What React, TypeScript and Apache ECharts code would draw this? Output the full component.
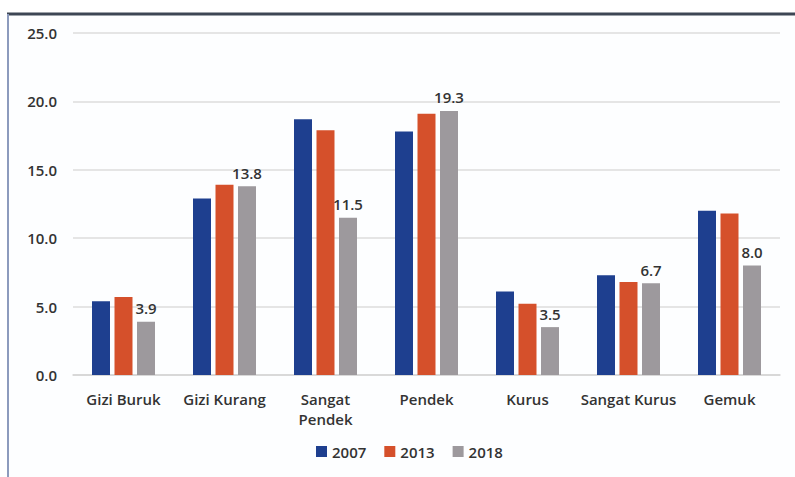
import React, { useEffect, useRef } from "react";
import * as echarts from "echarts";

const categories = ["Gizi Buruk", "Gizi Kurang", "Sangat\nPendek", "Pendek", "Kurus", "Sangat Kurus", "Gemuk"];
const years = ["2007", "2013", "2018"];
const values2007 = [5.4, 12.9, 18.7, 17.8, 6.1, 7.3, 12.0];
const values2013 = [5.7, 13.9, 17.9, 19.1, 5.2, 6.8, 11.8];
const values2018 = [3.9, 13.8, 11.5, 19.3, 3.5, 6.7, 8.0];
const colors = ["#1e3f8f", "#d5502b", "#9d999d"];

export default function App() {
  const ref = useRef<HTMLDivElement>(null);
  useEffect(() => {
    if (!ref.current) return;
    const chart = echarts.init(ref.current, undefined, { renderer: "svg" });
    const font = "'Open Sans', sans-serif";
    const seriesData = [values2007, values2013, values2018];
    chart.setOption({
      animation: false,
      backgroundColor: "#ffffff",
      color: colors,
      textStyle: { fontFamily: font },
      graphic: [
        { type: "rect", shape: { x: 8, y: 13, width: 790, height: 470 }, style: { fill: "#fdfeff", stroke: "none" }, z: -10 },
        { type: "line", shape: { x1: 7, y1: 14, x2: 795, y2: 14 }, style: { stroke: "#3d4654", lineWidth: 3 }, z: 10 },
        { type: "line", shape: { x1: 8, y1: 14, x2: 8, y2: 477 }, style: { stroke: "#8d9bbd", lineWidth: 2 }, z: 10 },
      ],
      grid: { left: 73, right: 15, top: 33, bottom: 102, containLabel: false },
      legend: {
        data: years,
        bottom: 13,
        left: 311,
        icon: "rect",
        itemWidth: 11,
        itemHeight: 11,
        itemGap: 18,
        textStyle: { fontFamily: font, fontWeight: 600, fontSize: 15, color: "#333" },
      },
      xAxis: {
        type: "category",
        data: categories,
        axisLine: { show: true, lineStyle: { color: "#d4d4d4", width: 1.5 } },
        axisTick: { show: false },
        axisLabel: { color: "#333", fontSize: 15, fontWeight: 600, fontFamily: font, margin: 14, lineHeight: 20, interval: 0 },
      },
      yAxis: {
        type: "value",
        min: 0,
        max: 25,
        interval: 5,
        axisLine: { show: false },
        axisTick: { show: false },
        splitLine: { lineStyle: { color: "#dcdcdc", width: 1.5 } },
        axisLabel: {
          color: "#333",
          fontSize: 15,
          fontWeight: 600,
          fontFamily: font,
          margin: 16,
          formatter: (v: number) => v.toFixed(1),
        },
      },
      series: years.map((y, i) => ({
        name: y,
        type: "bar",
        data: seriesData[i],
        barWidth: 18,
        barGap: "25%",
        itemStyle: { color: colors[i] },
        label: i === 2
          ? {
              show: true,
              position: "top",
              distance: 6,
              color: "#333",
              fontSize: 15,
              fontWeight: 600,
              fontFamily: font,
              formatter: (p: any) => Number(p.value).toFixed(1),
            }
          : { show: false },
      })),
    });
    return () => chart.dispose();
  }, []);
  return <div ref={ref} style={{ position: "fixed", left: 0, top: 0, width: 795, height: 477 }} />;
}
